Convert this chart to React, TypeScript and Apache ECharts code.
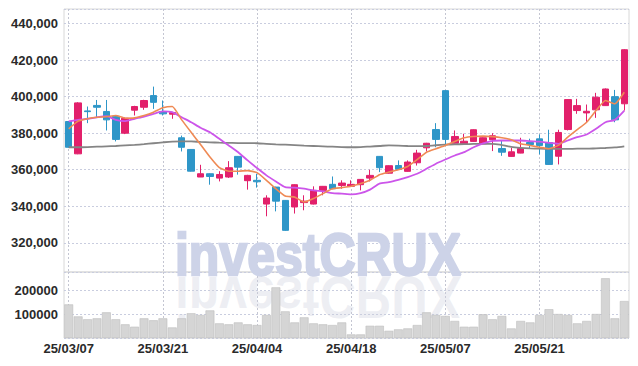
import React, { useEffect, useRef } from 'react';
import * as echarts from 'echarts';

const dates = [
  '25/03/07', '25/03/10', '25/03/11', '25/03/12', '25/03/13', '25/03/14', '25/03/17', '25/03/18', '25/03/19', '25/03/20',
  '25/03/21', '25/03/24', '25/03/25', '25/03/26', '25/03/27', '25/03/28', '25/03/31', '25/04/01', '25/04/02', '25/04/03',
  '25/04/04', '25/04/07', '25/04/08', '25/04/09', '25/04/10', '25/04/11', '25/04/14', '25/04/15', '25/04/16', '25/04/17',
  '25/04/18', '25/04/21', '25/04/22', '25/04/23', '25/04/24', '25/04/25', '25/04/28', '25/04/29', '25/04/30', '25/05/02',
  '25/05/07', '25/05/08', '25/05/09', '25/05/12', '25/05/13', '25/05/14', '25/05/15', '25/05/16', '25/05/19', '25/05/20',
  '25/05/21', '25/05/22', '25/05/23', '25/05/26', '25/05/27', '25/05/28', '25/05/29', '25/05/30', '25/06/02', '25/06/04',
];

const opens = [
  386400, 368700, 392200, 395200, 391900, 389300, 380000, 392600, 394200, 400600,
  391900, 390400, 377500, 371100, 356000, 357800, 355400, 356000, 367300, 354000,
  354200, 341200, 350500, 343200, 339600, 342000, 341200, 348700, 352000, 351400,
  350900, 351800, 355400, 367300, 358100, 362300, 359100, 363800, 372000, 382000,
  403300, 374500, 374200, 375500, 374200, 376400, 371600, 367300, 369100, 374900,
  376900, 374900, 367400, 382000, 392400, 391100, 392800, 395100, 400000, 396100,
];
const closes = [
  372300, 396600, 391800, 394200, 387300, 376600, 388200, 394600, 397900, 396900,
  390600, 391300, 372300, 359200, 357800, 356300, 357400, 361100, 361400, 356900,
  353400, 344500, 342800, 326800, 351800, 342800, 348700, 350900, 349600, 352700,
  352000, 354700, 356900, 361100, 362200, 360200, 364200, 369100, 374500, 376600,
  376600, 378200, 375600, 381900, 377500, 378600, 369600, 369800, 371600, 373800,
  373300, 362900, 380400, 398400, 395100, 392000, 399700, 404200, 387300, 425700,
];
const lows = [
  372000, 368500, 385500, 388400, 381500, 375500, 379500, 389700, 392800, 393300,
  389700, 387900, 370000, 359000, 356000, 351800, 353600, 355500, 357300, 349100,
  350200, 334500, 337200, 326500, 336000, 337800, 341000, 346000, 349300, 349600,
  350700, 348700, 353600, 358700, 357900, 360000, 358900, 362300, 370000, 372300,
  373300, 374300, 374000, 375300, 374000, 370200, 367600, 367100, 369000, 371500,
  368400, 362700, 362900, 381500, 390600, 386000, 388400, 394900, 386000, 392400,
];
const highs = [
  386500, 397000, 394600, 398200, 398200, 389800, 388500, 395000, 398300, 405500,
  397900, 391600, 378700, 371200, 362700, 358000, 359200, 364700, 367500, 357200,
  357800, 346000, 350700, 343400, 352000, 346000, 350900, 351100, 356300, 354200,
  354200, 354900, 360000, 367500, 362400, 365100, 365100, 370900, 374700, 385500,
  403500, 381500, 379700, 382100, 377700, 380000, 376000, 372000, 377500, 377000,
  379300, 381900, 381900, 398600, 398800, 395700, 402100, 404500, 403700, 426000,
];

const ma5 = [
  382400, 386600, 387900, 388700, 389000, 389700, 388200, 388400, 389700, 391500,
  393900, 394600, 387300, 380500, 373800, 366900, 361100, 359200, 359200, 359500,
  358400, 354200, 349600, 345600, 345000, 342300, 344200, 346900, 349600, 350200,
  350900, 352400, 354200, 357300, 358700, 360000, 361800, 365500, 369600, 371500,
  373300, 375500, 377500, 378200, 378400, 378100, 377500, 376400, 374200, 373300,
  372300, 371500, 373300, 377800, 381900, 386000, 392400, 397900, 396100, 402400,
];
const ma20 = [
  386500, 387300, 387900, 388700, 389300, 387300, 386600, 387900, 389100, 390600,
  391900, 391500, 388700, 386000, 383000, 380500, 376900, 373300, 369600, 365100,
  360900, 356900, 353600, 350500, 350200, 349600, 348700, 348100, 347200, 346900,
  346500, 347200, 349100, 352400, 353200, 354500, 356000, 357800, 360500, 363300,
  365600, 367800, 369600, 372300, 374400, 375800, 376000, 376000, 376000, 375600,
  375400, 374700, 374200, 376000, 377800, 379300, 382400, 386000, 387300, 392400,
];
const maLong = [
  372300, 372300, 372400, 372600, 372800, 373000, 373300, 373600, 374000, 374500,
  375000, 375400, 375500, 375500, 375200, 375000, 374800, 374700, 374600, 374600,
  374500, 374200, 373900, 373700, 373500, 373200, 373000, 372800, 372600, 372400,
  372300, 372400, 372700, 373000, 373300, 373200, 373000, 372900, 373000, 373400,
  373700, 373900, 374000, 374100, 374200, 374200, 373500, 372500, 372000, 371700,
  371500, 371400, 371400, 371400, 371500, 371500, 371700, 371900, 372200, 372800,
];

const volumes = [
  140000, 90000, 78000, 82000, 107000, 78000, 57000, 47000, 82000, 74000,
  82000, 44000, 82000, 103000, 96000, 115000, 61000, 57000, 65000, 57000,
  54000, 96000, 211000, 111000, 65000, 86000, 61000, 57000, 54000, 65000,
  15000, 15000, 51000, 51000, 30000, 36000, 40000, 54000, 107000, 96000,
  92000, 71000, 47000, 47000, 99000, 78000, 92000, 40000, 71000, 65000,
  96000, 120000, 100000, 96000, 61000, 71000, 100000, 249000, 82000, 154000,
];

const UP = '#e2206b';
const DOWN = '#2e96c8';
const FONT = 'Liberation Sans';

export default function App() {
  const ref = useRef<HTMLDivElement>(null);
  useEffect(() => {
    const chart = echarts.init(ref.current as HTMLDivElement, null, { renderer: 'svg' });
    const candleData = dates.map((_, i) => [opens[i], closes[i], lows[i], highs[i]]);
    const gridLine = { color: '#c9cddf', type: [2, 2] as number[], width: 1 };
    const vLine = { color: '#c4c6d2', type: [2, 2] as number[], width: 1 };
    const labelStyle = { color: '#2a2a2a', fontSize: 13, fontFamily: FONT, fontWeight: 'bold' as const };
    chart.setOption({
      animation: false,
      backgroundColor: '#ffffff',
      textStyle: { fontFamily: FONT },
      graphic: [
        {
          type: 'text',
          x: 318,
          y: 254,
          scaleY: 1.2,
          z: 1,
          style: {
            text: 'investCRUX',
            x: 0,
            y: 0,
            align: 'center',
            verticalAlign: 'middle',
            font: 'bold 50px "Liberation Sans"',
            fill: '#cdd3e8',
            stroke: '#cdd3e8',
            lineWidth: 2,
          },
        },
        {
          type: 'text',
          x: 318,
          y: 298,
          scaleY: -1.2,
          z: 1,
          style: {
            text: 'investCRUX',
            x: 0,
            y: 0,
            align: 'center',
            verticalAlign: 'middle',
            font: 'bold 50px "Liberation Sans"',
            fill: 'rgba(205,208,222,0.35)',
          },
        },
      ],
      grid: [
        { left: 64, right: 9, top: 9, height: 263, show: true, borderColor: '#d8d8d8', borderWidth: 1 },
        { left: 64, right: 9, top: 272, height: 66, show: true, borderColor: '#d8d8d8', borderWidth: 1 },
      ],
      xAxis: [
        {
          type: 'category',
          gridIndex: 0,
          data: dates,
          boundaryGap: true,
          axisLine: { show: false },
          axisTick: { show: false },
          axisLabel: { show: false, interval: 9 },
          splitLine: { show: true, interval: 9, alignWithLabel: true, lineStyle: vLine },
        },
        {
          type: 'category',
          gridIndex: 1,
          data: dates,
          boundaryGap: true,
          axisLine: { show: false },
          axisTick: { show: false },
          axisLabel: { show: true, interval: 9, margin: 4, ...labelStyle },
          splitLine: { show: true, interval: 9, alignWithLabel: true, lineStyle: vLine },
        },
      ],
      yAxis: [
        {
          type: 'value',
          gridIndex: 0,
          min: 304000,
          max: 448000,
          splitNumber: 7,
          axisLine: { show: false },
          axisTick: { show: false },
          axisLabel: {
            ...labelStyle,
            margin: 6,
            showMinLabel: false,
            showMaxLabel: false,
            formatter: (v: number) => v.toLocaleString('en-US'),
          },
          splitLine: { show: true, lineStyle: gridLine },
        },
        {
          type: 'value',
          gridIndex: 1,
          min: 0,
          max: 275000,
          interval: 100000,
          axisLine: { show: false },
          axisTick: { show: false },
          axisLabel: {
            ...labelStyle,
            margin: 6,
            showMinLabel: false,
            showMaxLabel: false,
            formatter: (v: number) => String(v),
          },
          splitLine: { show: true, lineStyle: gridLine },
        },
      ],
      series: [
        {
          type: 'bar',
          xAxisIndex: 1,
          yAxisIndex: 1,
          data: volumes,
          barCategoryGap: '6%',
          z: 3,
          itemStyle: { color: '#d5d5d5', borderColor: '#bdbdbd', borderWidth: 0.6 },
        },
        {
          type: 'candlestick',
          xAxisIndex: 0,
          yAxisIndex: 0,
          data: candleData,
          barWidth: '74%',
          z: 3,
          itemStyle: {
            color: UP,
            color0: DOWN,
            borderColor: UP,
            borderColor0: DOWN,
            borderWidth: 1,
          },
        },
        {
          type: 'line',
          xAxisIndex: 0,
          yAxisIndex: 0,
          data: maLong,
          symbol: 'none',
          smooth: 0.3,
          z: 4,
          lineStyle: { color: '#858585', width: 1.8 },
        },
        {
          type: 'line',
          xAxisIndex: 0,
          yAxisIndex: 0,
          data: ma20,
          symbol: 'none',
          smooth: 0.2,
          z: 5,
          lineStyle: { color: '#cc55ea', width: 1.8 },
        },
        {
          type: 'line',
          xAxisIndex: 0,
          yAxisIndex: 0,
          data: ma5,
          symbol: 'none',
          smooth: 0.15,
          z: 6,
          lineStyle: { color: '#ef8a55', width: 1.6 },
        },
      ],
    });
    return () => chart.dispose();
  }, []);
  return (
    <div
      ref={ref}
      style={{ position: 'fixed', left: 0, top: 0, width: 638, height: 366 }}
    />
  );
}
